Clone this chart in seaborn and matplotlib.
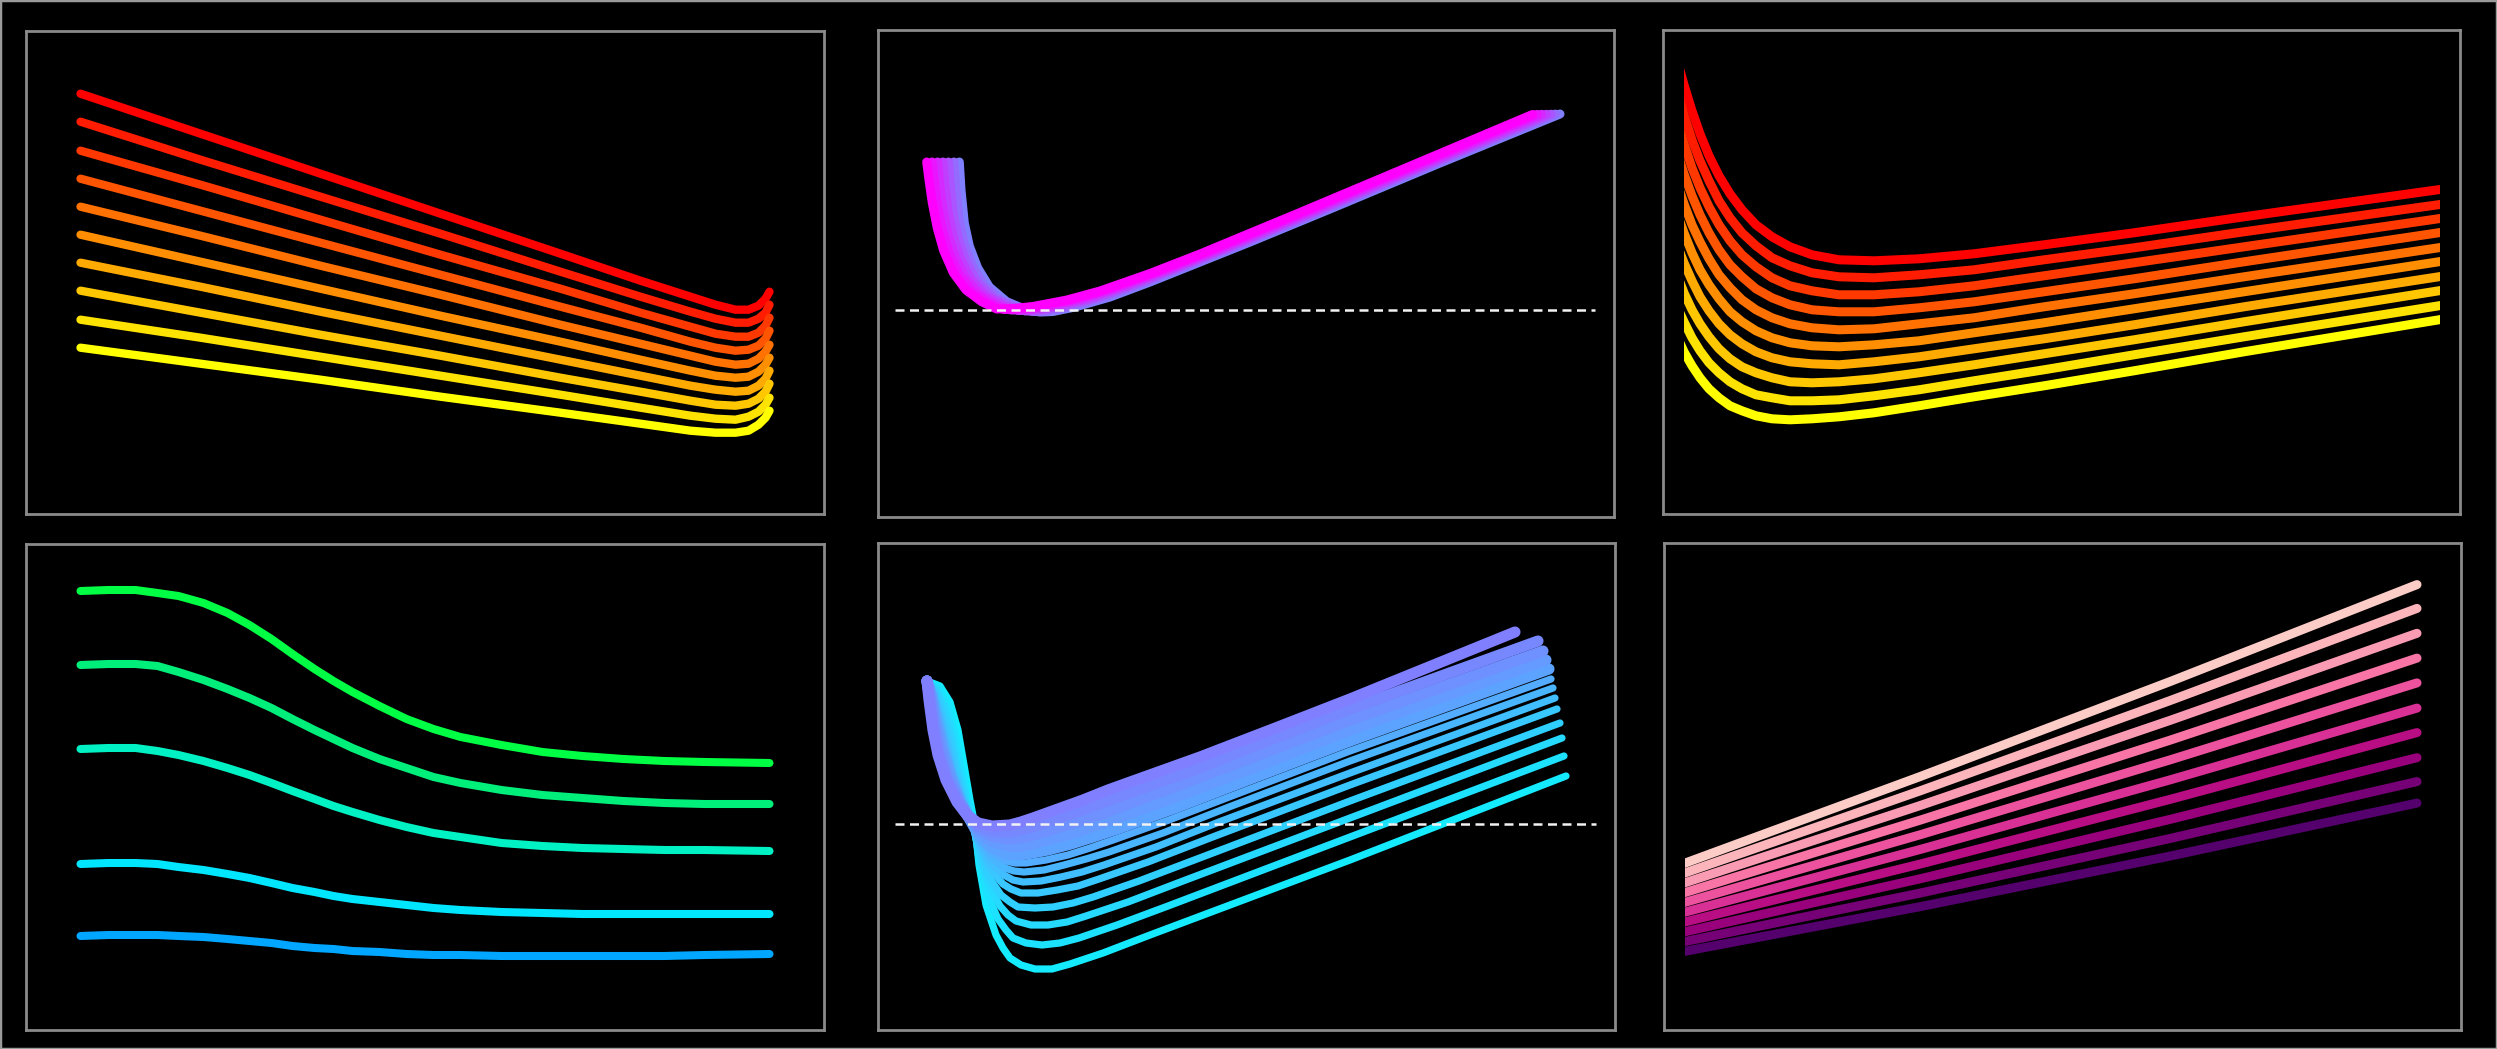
import numpy as np
import pandas as pd
import matplotlib
matplotlib.use("Agg")
import matplotlib.pyplot as plt
from matplotlib.patches import Rectangle
import seaborn as sns

# ---- panel 1: falling lines with a hook at the right (autumn) ----
p1_x = [0.55, 1.75, 2.95, 4.15, 5.35, 6.15, 6.65, 6.90, 7.10, 7.23, 7.33, 7.40, 7.44]
p1_y = [
    [4.20, 3.80, 3.40, 3.00, 2.60, 2.33, 2.17, 2.09, 2.04, 2.04, 2.08, 2.15, 2.22],
    [3.92, 3.54, 3.17, 2.80, 2.42, 2.17, 2.02, 1.95, 1.91, 1.91, 1.95, 2.01, 2.09],
    [3.63, 3.29, 2.94, 2.59, 2.25, 2.01, 1.87, 1.80, 1.77, 1.77, 1.81, 1.88, 1.96],
    [3.35, 3.03, 2.71, 2.39, 2.07, 1.86, 1.72, 1.66, 1.63, 1.64, 1.68, 1.75, 1.83],
    [3.07, 2.78, 2.48, 2.19, 1.89, 1.70, 1.58, 1.52, 1.49, 1.50, 1.55, 1.62, 1.69],
    [2.79, 2.52, 2.25, 1.98, 1.72, 1.54, 1.43, 1.38, 1.36, 1.37, 1.42, 1.49, 1.56],
    [2.51, 2.27, 2.02, 1.78, 1.54, 1.38, 1.28, 1.24, 1.22, 1.23, 1.28, 1.35, 1.43],
    [2.23, 2.01, 1.79, 1.58, 1.36, 1.22, 1.13, 1.09, 1.08, 1.10, 1.15, 1.22, 1.30],
    [1.94, 1.76, 1.57, 1.38, 1.19, 1.06, 0.98, 0.95, 0.94, 0.97, 1.02, 1.09, 1.16],
    [1.66, 1.50, 1.34, 1.17, 1.01, 0.90, 0.83, 0.81, 0.81, 0.83, 0.89, 0.96, 1.03],
]

# ---- panel 2: shifted wells (cool, magenta half) ----
p2_x = [
    [0.492, 0.515, 0.548, 0.598, 0.662, 0.758, 0.885, 1.042, 1.192, 1.355, 1.555, 1.895, 2.225, 2.725, 3.225, 4.225, 5.425, 6.550],
    [0.546, 0.568, 0.601, 0.651, 0.719, 0.818, 0.953, 1.117, 1.264, 1.422, 1.625, 1.967, 2.308, 2.808, 3.308, 4.275, 5.458, 6.596],
    [0.601, 0.622, 0.655, 0.705, 0.775, 0.878, 1.021, 1.192, 1.336, 1.488, 1.695, 2.038, 2.392, 2.892, 3.392, 4.325, 5.492, 6.642],
    [0.655, 0.675, 0.708, 0.758, 0.832, 0.938, 1.088, 1.267, 1.409, 1.555, 1.765, 2.110, 2.475, 2.975, 3.475, 4.375, 5.525, 6.688],
    [0.709, 0.728, 0.761, 0.811, 0.889, 0.998, 1.156, 1.342, 1.481, 1.622, 1.835, 2.182, 2.558, 3.058, 3.558, 4.425, 5.558, 6.733],
    [0.764, 0.782, 0.815, 0.865, 0.945, 1.058, 1.224, 1.417, 1.553, 1.688, 1.905, 2.253, 2.642, 3.142, 3.642, 4.475, 5.592, 6.779],
    [0.818, 0.835, 0.868, 0.918, 1.002, 1.118, 1.292, 1.492, 1.625, 1.755, 1.975, 2.325, 2.725, 3.225, 3.725, 4.525, 5.625, 6.825],
]
p2_y = [
    [3.553, 3.373, 3.146, 2.890, 2.666, 2.446, 2.273, 2.156, 2.083, 2.088, 2.108, 2.173, 2.263, 2.438, 2.633, 3.048, 3.553, 4.028],
    [3.553, 3.356, 3.112, 2.861, 2.637, 2.422, 2.254, 2.142, 2.078, 2.083, 2.107, 2.178, 2.278, 2.457, 2.653, 3.054, 3.551, 4.029],
    [3.553, 3.340, 3.078, 2.831, 2.608, 2.398, 2.234, 2.128, 2.073, 2.078, 2.106, 2.183, 2.293, 2.476, 2.673, 3.060, 3.550, 4.030],
    [3.553, 3.323, 3.045, 2.802, 2.580, 2.375, 2.215, 2.115, 2.068, 2.073, 2.106, 2.188, 2.308, 2.496, 2.693, 3.065, 3.548, 4.030],
    [3.553, 3.306, 3.011, 2.772, 2.551, 2.351, 2.195, 2.101, 2.063, 2.068, 2.105, 2.193, 2.323, 2.515, 2.713, 3.071, 3.546, 4.031],
    [3.553, 3.290, 2.977, 2.743, 2.522, 2.327, 2.176, 2.087, 2.058, 2.063, 2.104, 2.198, 2.338, 2.534, 2.733, 3.077, 3.545, 4.032],
    [3.553, 3.273, 2.943, 2.713, 2.493, 2.303, 2.156, 2.073, 2.053, 2.058, 2.103, 2.203, 2.353, 2.553, 2.753, 3.083, 3.543, 4.033],
]
p2_zero = 2.068
p2_dash = [0.175, 7.18]

# ---- panel 3: steep drop then slow rise (autumn), cut at both sides ----
p3_x = [0.16, 0.21, 0.29, 0.37, 0.46, 0.56, 0.67, 0.79, 0.93, 1.09, 1.27, 1.49, 1.76, 2.11, 2.56, 3.11, 3.81, 4.71, 5.81, 7.82]
p3_y = [
    [4.47, 4.29, 4.03, 3.80, 3.58, 3.38, 3.20, 3.04, 2.89, 2.77, 2.67, 2.59, 2.54, 2.53, 2.55, 2.60, 2.69, 2.81, 2.97, 3.25],
    [4.17, 3.99, 3.74, 3.53, 3.33, 3.13, 2.96, 2.81, 2.68, 2.56, 2.48, 2.41, 2.37, 2.36, 2.39, 2.44, 2.54, 2.66, 2.82, 3.10],
    [3.86, 3.70, 3.46, 3.26, 3.07, 2.89, 2.73, 2.59, 2.47, 2.36, 2.28, 2.23, 2.19, 2.19, 2.22, 2.28, 2.38, 2.51, 2.67, 2.96],
    [3.56, 3.40, 3.18, 2.99, 2.81, 2.64, 2.49, 2.37, 2.25, 2.16, 2.09, 2.04, 2.02, 2.02, 2.06, 2.12, 2.22, 2.35, 2.52, 2.82],
    [3.25, 3.10, 2.89, 2.72, 2.55, 2.39, 2.26, 2.14, 2.04, 1.96, 1.90, 1.86, 1.84, 1.85, 1.90, 1.96, 2.07, 2.20, 2.37, 2.67],
    [2.95, 2.81, 2.61, 2.44, 2.29, 2.15, 2.02, 1.92, 1.83, 1.76, 1.71, 1.68, 1.67, 1.69, 1.73, 1.81, 1.91, 2.05, 2.22, 2.53],
    [2.64, 2.51, 2.33, 2.17, 2.03, 1.90, 1.79, 1.70, 1.62, 1.56, 1.52, 1.50, 1.49, 1.52, 1.57, 1.65, 1.75, 1.89, 2.07, 2.38],
    [2.34, 2.21, 2.04, 1.90, 1.77, 1.65, 1.55, 1.47, 1.41, 1.36, 1.32, 1.31, 1.32, 1.35, 1.41, 1.49, 1.60, 1.74, 1.92, 2.24],
    [2.03, 1.92, 1.76, 1.63, 1.51, 1.41, 1.32, 1.25, 1.19, 1.16, 1.13, 1.13, 1.14, 1.18, 1.24, 1.33, 1.44, 1.59, 1.77, 2.09],
    [1.73, 1.62, 1.48, 1.36, 1.25, 1.16, 1.08, 1.03, 0.98, 0.95, 0.94, 0.95, 0.97, 1.01, 1.08, 1.17, 1.28, 1.43, 1.62, 1.95],
]
p3_window = [0.21, 7.77]

# ---- panel 4: five soft steps (green to blue) ----
p4_x = [0.55, 0.83, 1.10, 1.32, 1.53, 1.78, 2.02, 2.24, 2.46, 2.67, 2.89, 3.08,
        3.27, 3.54, 3.81, 4.08, 4.35, 4.76, 5.17, 5.57, 5.98, 6.39, 6.79, 7.44]
p4_y = [
    [4.39, 4.40, 4.40, 4.37, 4.34, 4.27, 4.17, 4.05, 3.91, 3.76, 3.61, 3.49, 3.38, 3.24, 3.11, 3.01, 2.93, 2.85, 2.78, 2.74, 2.71, 2.69, 2.68, 2.67],
    [3.65, 3.66, 3.66, 3.64, 3.58, 3.50, 3.41, 3.32, 3.22, 3.11, 3.00, 2.91, 2.82, 2.71, 2.62, 2.53, 2.47, 2.40, 2.35, 2.32, 2.29, 2.27, 2.26, 2.26],
    [2.81, 2.82, 2.82, 2.79, 2.75, 2.69, 2.62, 2.55, 2.47, 2.39, 2.31, 2.24, 2.18, 2.10, 2.03, 1.97, 1.93, 1.87, 1.84, 1.82, 1.81, 1.80, 1.80, 1.79],
    [1.66, 1.67, 1.67, 1.66, 1.63, 1.60, 1.56, 1.52, 1.47, 1.42, 1.38, 1.34, 1.31, 1.28, 1.25, 1.22, 1.20, 1.18, 1.17, 1.16, 1.16, 1.16, 1.16, 1.16],
    [0.94, 0.95, 0.95, 0.95, 0.94, 0.93, 0.91, 0.89, 0.87, 0.84, 0.82, 0.81, 0.79, 0.78, 0.76, 0.75, 0.75, 0.74, 0.74, 0.74, 0.74, 0.74, 0.75, 0.76],
]
p4_colors = ["#00ff44", "#00ee7a", "#00f2c4", "#00e6ff", "#00a6ff"]

# ---- panel 5: deepening wells (cool, cyan half); first 5 form the dense band ----
p5_x = [
    [0.49, 0.51, 0.55, 0.60, 0.68, 0.79, 0.89, 1.00, 1.14, 1.32, 1.43, 1.55, 1.80, 2.05, 2.30, 2.55, 3.22, 4.00, 4.72, 6.37],
    [0.49, 0.52, 0.56, 0.61, 0.69, 0.80, 0.90, 1.00, 1.14, 1.31, 1.42, 1.54, 1.78, 2.02, 2.26, 2.51, 3.16, 3.92, 4.72, 6.60],
    [0.49, 0.52, 0.57, 0.63, 0.70, 0.81, 0.90, 1.00, 1.13, 1.30, 1.41, 1.52, 1.75, 1.99, 2.23, 2.47, 3.09, 3.83, 4.72, 6.65],
    [0.49, 0.53, 0.58, 0.64, 0.72, 0.82, 0.91, 1.00, 1.13, 1.29, 1.40, 1.51, 1.73, 1.96, 2.19, 2.43, 3.03, 3.75, 4.72, 6.68],
    [0.49, 0.54, 0.59, 0.65, 0.73, 0.82, 0.91, 1.00, 1.12, 1.28, 1.38, 1.49, 1.70, 1.93, 2.15, 2.39, 2.97, 3.67, 4.72, 6.71],
    [0.49, 0.55, 0.61, 0.67, 0.74, 0.83, 0.92, 1.00, 1.12, 1.28, 1.37, 1.48, 1.68, 1.90, 2.12, 2.35, 2.91, 3.59, 4.72, 6.73],
    [0.49, 0.55, 0.62, 0.68, 0.75, 0.84, 0.92, 1.00, 1.12, 1.27, 1.36, 1.46, 1.66, 1.86, 2.08, 2.31, 2.85, 3.51, 4.72, 6.75],
    [0.49, 0.56, 0.63, 0.69, 0.76, 0.85, 0.93, 1.00, 1.11, 1.26, 1.35, 1.45, 1.63, 1.83, 2.04, 2.26, 2.78, 3.41, 4.72, 6.77],
    [0.49, 0.57, 0.64, 0.71, 0.78, 0.86, 0.93, 1.01, 1.11, 1.25, 1.33, 1.43, 1.60, 1.79, 2.00, 2.21, 2.70, 3.32, 4.72, 6.79],
    [0.49, 0.58, 0.66, 0.73, 0.79, 0.87, 0.94, 1.01, 1.10, 1.23, 1.32, 1.40, 1.57, 1.75, 1.95, 2.15, 2.61, 3.19, 4.72, 6.82],
    [0.49, 0.59, 0.68, 0.75, 0.81, 0.89, 0.95, 1.01, 1.10, 1.22, 1.30, 1.38, 1.53, 1.70, 1.89, 2.08, 2.50, 3.05, 4.72, 6.84],
    [0.49, 0.60, 0.70, 0.77, 0.83, 0.90, 0.96, 1.01, 1.09, 1.20, 1.28, 1.35, 1.48, 1.64, 1.82, 2.01, 2.39, 2.90, 4.72, 6.86],
    [0.49, 0.62, 0.72, 0.80, 0.86, 0.92, 0.97, 1.01, 1.08, 1.18, 1.25, 1.32, 1.43, 1.57, 1.74, 1.92, 2.25, 2.72, 4.72, 6.88],
]
p5_y = [
    [3.49, 3.30, 3.00, 2.75, 2.50, 2.28, 2.15, 2.07, 2.04, 2.05, 2.08, 2.12, 2.21, 2.30, 2.40, 2.49, 2.73, 3.03, 3.31, 3.98],
    [3.49, 3.31, 3.02, 2.77, 2.51, 2.28, 2.14, 2.04, 1.99, 1.98, 2.00, 2.03, 2.11, 2.19, 2.28, 2.37, 2.60, 2.90, 3.21, 3.89],
    [3.49, 3.32, 3.04, 2.78, 2.52, 2.28, 2.14, 2.02, 1.94, 1.91, 1.92, 1.94, 2.01, 2.08, 2.16, 2.25, 2.48, 2.76, 3.10, 3.79],
    [3.49, 3.33, 3.06, 2.80, 2.53, 2.28, 2.13, 1.99, 1.89, 1.84, 1.83, 1.85, 1.91, 1.97, 2.05, 2.13, 2.35, 2.62, 3.00, 3.70],
    [3.49, 3.34, 3.07, 2.82, 2.54, 2.29, 2.12, 1.96, 1.84, 1.76, 1.75, 1.76, 1.80, 1.86, 1.93, 2.01, 2.22, 2.49, 2.89, 3.61],
    [3.49, 3.35, 3.09, 2.83, 2.55, 2.29, 2.11, 1.93, 1.78, 1.69, 1.67, 1.67, 1.70, 1.75, 1.82, 1.90, 2.10, 2.36, 2.79, 3.51],
    [3.49, 3.35, 3.11, 2.85, 2.56, 2.29, 2.11, 1.91, 1.73, 1.62, 1.59, 1.58, 1.60, 1.65, 1.71, 1.78, 1.97, 2.23, 2.69, 3.42],
    [3.49, 3.36, 3.13, 2.87, 2.57, 2.29, 2.10, 1.88, 1.68, 1.55, 1.50, 1.48, 1.49, 1.53, 1.58, 1.65, 1.83, 2.08, 2.57, 3.32],
    [3.49, 3.38, 3.15, 2.88, 2.58, 2.29, 2.09, 1.85, 1.62, 1.46, 1.41, 1.37, 1.37, 1.40, 1.44, 1.51, 1.68, 1.92, 2.45, 3.21],
    [3.49, 3.39, 3.18, 2.91, 2.60, 2.29, 2.08, 1.80, 1.54, 1.35, 1.28, 1.23, 1.22, 1.23, 1.27, 1.33, 1.49, 1.71, 2.29, 3.07],
    [3.49, 3.40, 3.21, 2.93, 2.61, 2.29, 2.07, 1.76, 1.46, 1.24, 1.15, 1.09, 1.05, 1.05, 1.08, 1.14, 1.28, 1.49, 2.12, 2.92],
    [3.49, 3.42, 3.24, 2.96, 2.63, 2.30, 2.06, 1.71, 1.36, 1.11, 1.00, 0.92, 0.87, 0.85, 0.87, 0.92, 1.05, 1.24, 1.93, 2.74],
    [3.49, 3.44, 3.28, 3.00, 2.65, 2.30, 2.04, 1.65, 1.25, 0.95, 0.82, 0.72, 0.65, 0.61, 0.61, 0.66, 0.77, 0.95, 1.70, 2.54],
]
p5_band = 5
p5_zero = 2.057
p5_dash = [0.17, 7.18]

# ---- panel 6: rising fan (RdPu), cut on the left ----
p6_x = [0.115, 2.565, 5.065, 7.535]
p6_y = [
    [1.632, 2.534, 3.484, 4.454],
    [1.536, 2.391, 3.294, 4.216],
    [1.440, 2.244, 3.096, 3.967],
    [1.344, 2.098, 2.898, 3.719],
    [1.248, 1.952, 2.701, 3.471],
    [1.152, 1.805, 2.501, 3.219],
    [1.056, 1.659, 2.306, 2.974],
    [0.960, 1.512, 2.106, 2.723],
    [0.864, 1.369, 1.915, 2.484],
    [0.768, 1.233, 1.739, 2.269],
]
p6_window = [0.215, 7.975]

W, H = 2497, 1049
# panel frames in pixels: left, top, right, bottom
boxes = {
    1: (25.5, 30.5, 823.5, 513.7),
    2: (877.5, 29.7, 1614.0, 517.3),
    3: (1663.0, 30.4, 2460.0, 513.8),
    4: (25.5, 544.0, 824.0, 1030.0),
    5: (878.0, 543.0, 1615.0, 1030.0),
    6: (1663.5, 543.0, 2461.0, 1030.0),
}

sns.set_theme(style="dark", rc={"figure.facecolor": "black", "axes.facecolor": "black"})
fig = plt.figure(figsize=(W / 100, H / 100), dpi=100)
fig.patch.set_facecolor("black")


def make_ax(n):
    l, t, r, b = boxes[n]
    ax = fig.add_axes([l / W, 1 - b / H, (r - l) / W, (b - t) / H])
    ax.set_xlim(0, (r - l) / 100)
    ax.set_ylim(0, (b - t) / 100)
    ax.set_xticks([])
    ax.set_yticks([])
    for s in ax.spines.values():
        s.set_color("#8a8a8a")
        s.set_linewidth(2.0)
    return ax


def draw_family(ax, xs, ys, colors, lw, reverse=False):
    frames = [pd.DataFrame({"x": x, "y": y, "curve": f"c{i}"}) for i, (x, y) in enumerate(zip(xs, ys))]
    df = pd.concat(frames, ignore_index=True)
    names = [f"c{i}" for i in range(len(xs))]
    sns.lineplot(data=df, x="x", y="y", hue="curve", palette=dict(zip(names, colors)),
                 hue_order=names[::-1] if reverse else names,
                 sort=False, estimator=None, legend=False,
                 linewidth=lw, solid_capstyle="round", ax=ax)
    ax.set_xlabel("")
    ax.set_ylabel("")


def clip_lines(ax, x0, x1):
    xmax = ax.get_xlim()[1]
    rect = Rectangle((x0 / xmax, 0), (x1 - x0) / xmax, 1, transform=ax.transAxes,
                     facecolor="none", edgecolor="none")
    for ln in ax.lines:
        ln.set_clip_path(rect)


autumn10 = [plt.cm.autumn(v) for v in np.linspace(0, 1, 10)]

ax1 = make_ax(1)
draw_family(ax1, [p1_x] * len(p1_y), p1_y, autumn10, 6.0)

ax2 = make_ax(2)
draw_family(ax2, p2_x, p2_y, [plt.cm.cool(v) for v in np.linspace(1.0, 0.5, len(p2_y))], 6.5, reverse=True)
ax2.hlines(p2_zero, p2_dash[0], p2_dash[1], colors="#f2f2f2",
           linestyles=(0, (3.6, 2.2)), linewidth=1.8, zorder=5)

ax3 = make_ax(3)
draw_family(ax3, [p3_x] * len(p3_y), p3_y, autumn10, 6.5)
clip_lines(ax3, *p3_window)

ax4 = make_ax(4)
draw_family(ax4, [p4_x] * len(p4_y), p4_y, p4_colors, 5.8)

ax5 = make_ax(5)
cool5 = [plt.cm.cool(v) for v in np.linspace(0.5, 0.08, len(p5_y))]
draw_family(ax5, p5_x[p5_band:], p5_y[p5_band:], cool5[p5_band:], 5.2, reverse=True)
draw_family(ax5, p5_x[:p5_band], p5_y[:p5_band], cool5[:p5_band], 8.0, reverse=True)
ax5.hlines(p5_zero, p5_dash[0], p5_dash[1], colors="#f2f2f2",
           linestyles=(0, (3.6, 2.2)), linewidth=1.8, zorder=5)

ax6 = make_ax(6)
draw_family(ax6, [p6_x] * len(p6_y), p6_y, [plt.cm.RdPu(v) for v in np.linspace(0.22, 0.97, len(p6_y))], 6.5)
clip_lines(ax6, *p6_window)

fig.patches.append(Rectangle((0, 0), 1, 1, transform=fig.transFigure,
                             fill=False, edgecolor="#9a9a9a", linewidth=2.5))
fig.savefig("out.png", dpi=100, facecolor="black")
